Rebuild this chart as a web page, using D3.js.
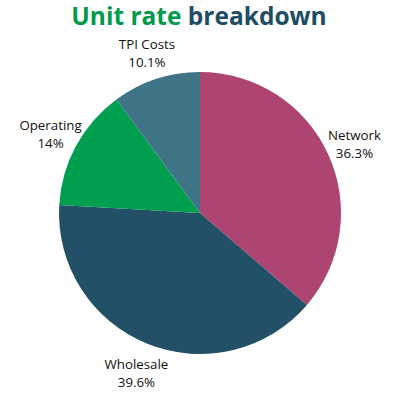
<!DOCTYPE html>
<html><head><meta charset="utf-8">
<script src="https://cdn.jsdelivr.net/npm/d3@7"></script>
<style>body{margin:0;background:#fff}</style>
</head><body>
<svg id="c" width="400" height="400"></svg>
<script>
const categories = ["Network", "Wholesale", "Operating", "TPI Costs"];
const values = [36.3, 39.6, 14, 10.1];
const valueLabels = ["36.3%", "39.6%", "14%", "10.1%"];
const colors = ["#AE4471", "#225066", "#009E4F", "#3F7487"];
const titleParts = ["Unit rate", "breakdown"];

const svg = d3.select("#c");
const cx = 200, cy = 213, r = 141, lr = 170;
const data = categories.map((c, i) => ({c, v: values[i], l: valueLabels[i], col: colors[i]}));
const pie = d3.pie().value(d => d.v).sort(null);
const arcs = pie(data);
const arc = d3.arc().innerRadius(0).outerRadius(r);
const labelArc = d3.arc().innerRadius(lr).outerRadius(lr);
const g = svg.append("g").attr("transform", `translate(${cx},${cy})`);
g.selectAll("path").data(arcs).join("path").attr("d", arc).attr("fill", d => d.data.col);
const lab = g.selectAll("g.lab").data(arcs).join("g").attr("class", "lab")
  .attr("transform", d => `translate(${labelArc.centroid(d)})`)
  .style("font-family", "'Open Sans', sans-serif").style("font-size", "13.3px").attr("fill", "#111");
lab.append("text").attr("text-anchor", "middle").attr("y", -2).text(d => d.data.c);
lab.append("text").attr("text-anchor", "middle").attr("y", 16).text(d => d.data.l);

const t = svg.append("text").attr("x", 199).attr("y", 25).attr("text-anchor", "middle")
  .style("font-family", "'Open Sans', sans-serif").style("font-weight", "bold").style("font-size", "24.5px");
t.append("tspan").attr("fill", "#009A4E").text(titleParts[0]);
t.append("tspan").attr("fill", "#1E4D64").text(" " + titleParts[1]);
</script>
</body></html>
